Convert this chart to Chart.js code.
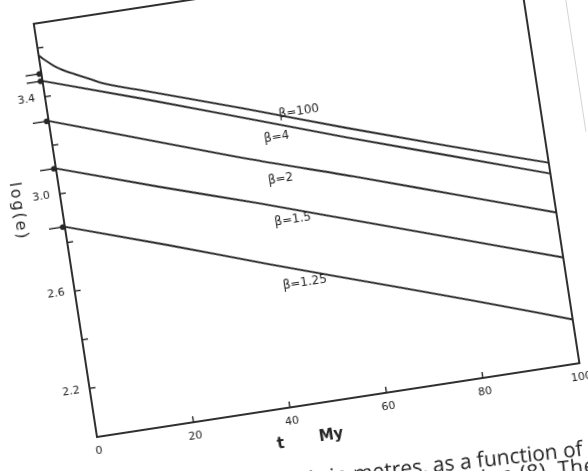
<!DOCTYPE html>
<html>
<head>
<meta charset="utf-8">
<script src="https://cdn.jsdelivr.net/npm/chart.js@4.4.1/dist/chart.umd.min.js"></script>
<style>
    html, body { margin: 0; padding: 0; background: #fff; overflow: hidden; width: 588px; height: 471px; }
    #wrap {
        position: absolute; left: 27px; top: -11px; width: 760px; height: 620px;
        transform-origin: 70px 448px; transform: rotate(-8.7deg);
        filter: blur(0.6px);
    }
    #chart { position: absolute; left: 0; top: 0; }
    .caption {
        position: absolute; font: 21px 'Open Sans', sans-serif; color: #222;
        white-space: nowrap; line-height: 24px;
        transform-origin: 0 20px; transform: rotate(2.4deg);
    }
    #edge { position: absolute; left: 599px; top: -200px; width: 0; height: 420px; border-left: 1px solid #d4d4d4; }
</style>
</head>
<body>
<div id="wrap">
    <canvas id="chart" width="620" height="520"></canvas>
    <div class="caption" style="left:236px; top:507px;">e(t) is in metres, as a function of</div>
    <div class="caption" style="left:384px; top:531px; letter-spacing:0.6px;">equation (8). The</div>
    <div id="edge"></div>
</div>
<script>
// t in My
const tValues = [0, 20, 40, 60, 80, 100];
const beta100T = [0, 1, 3, 5, 7, 10, 12, 20, 40, 60, 80, 100];

// log(e)
const beta100 = [3.57, 3.55, 3.515, 3.49, 3.47, 3.44, 3.42, 3.365, 3.23, 3.09, 2.955, 2.825];
const beta4 = [3.465, 3.33, 3.19, 3.05, 2.915, 2.78];
const beta2 = [3.30, 3.16, 3.02, 2.89, 2.755, 2.62];
const beta15 = [3.105, 2.97, 2.84, 2.705, 2.57, 2.435];
const beta125 = [2.865, 2.73, 2.59, 2.455, 2.32, 2.18];

// little arrow marks on the log(e) axis at t = 0
const startMarks = [3.495, 3.465, 3.30, 3.105, 2.865];

// curve labels
const curveNames = ['\u03b2=100', '\u03b2=4', '\u03b2=2', '\u03b2=1.5', '\u03b2=1.25'];
const labelT = [51, 45.7, 45.2, 46.4, 46.9];
const labelY = [3.185, 3.095, 2.925, 2.752, 2.492];

// axes
const xTickMarks = [20, 40, 60, 80];
const yTickMarks = [2.2, 2.4, 2.6, 2.8, 3.0, 3.2, 3.4, 3.6];
const yLabelled = [2.2, 2.6, 3.0, 3.4];

const ink = '#262626';

function toPoints(xs, ys) {
    return ys.map((y, i) => ({ x: xs[i], y: y }));
}

function lineSet(xs, ys) {
    return {
        data: toPoints(xs, ys),
        borderColor: ink,
        borderWidth: 1.9,
        pointRadius: 0,
        fill: false,
        cubicInterpolationMode: 'monotone'
    };
}

// Frame, inward ticks, markers, labels and titles
const decorations = {
    id: 'decorations',
    afterDraw(chart) {
        const { ctx, chartArea: a, scales: { x, y } } = chart;
        ctx.save();
        ctx.strokeStyle = ink;
        ctx.fillStyle = ink;
        ctx.lineWidth = 1.9;
        ctx.strokeRect(a.left, a.top, a.width, a.height);

        const seg = (x1, y1, x2, y2) => {
            ctx.beginPath();
            ctx.moveTo(x1, y1);
            ctx.lineTo(x2, y2);
            ctx.stroke();
        };

        ctx.lineWidth = 1.4;
        xTickMarks.forEach(v => {
            const px = x.getPixelForValue(v);
            seg(px, a.bottom, px, a.bottom - 6);
        });
        yTickMarks.forEach(v => {
            const py = y.getPixelForValue(v);
            seg(a.left, py, a.left + 6, py);
        });

        startMarks.forEach(v => {
            const py = y.getPixelForValue(v);
            seg(a.left - 16, py, a.left, py);
            ctx.beginPath();
            ctx.arc(a.left - 2, py, 2.9, 0, Math.PI * 2);
            ctx.fill();
        });

        ctx.font = "12px 'DejaVu Sans', sans-serif";
        ctx.textAlign = 'center';
        ctx.textBaseline = 'middle';
        curveNames.forEach((name, i) => {
            ctx.fillText(name, x.getPixelForValue(labelT[i]), y.getPixelForValue(labelY[i]));
        });

        // axis titles
        ctx.font = "bold 15px 'DejaVu Sans', sans-serif";
        ctx.fillText('t', x.getPixelForValue(37), a.bottom + 35);
        ctx.fillText('My', x.getPixelForValue(47.5), a.bottom + 34);

        ctx.font = "16px 'DejaVu Sans', sans-serif";
        ctx.letterSpacing = '2px';
        ctx.translate(a.left - 44, y.getPixelForValue(2.955));
        ctx.rotate(Math.PI / 2);
        ctx.fillText('log(e)', 0, 0);
        ctx.restore();
    }
};

const ctx = document.getElementById('chart').getContext('2d');
new Chart(ctx, {
    type: 'line',
    data: {
        datasets: [
            lineSet(beta100T, beta100),
            lineSet(tValues, beta4),
            lineSet(tValues, beta2),
            lineSet(tValues, beta15),
            lineSet(tValues, beta125)
        ]
    },
    options: {
        responsive: false,
        devicePixelRatio: 1,
        animation: false,
        layout: { padding: { left: 10, top: 30, right: 62, bottom: 22 } },
        plugins: { legend: { display: false }, tooltip: { enabled: false } },
        scales: {
            x: {
                type: 'linear', min: 0, max: 100,
                grid: { display: false, drawTicks: false },
                border: { display: false },
                ticks: {
                    stepSize: 20, padding: 8, maxRotation: 0,
                    color: '#222', font: { size: 11, family: "'DejaVu Sans', sans-serif" }
                },
                afterFit: (scale) => { scale.height = 50; }
            },
            y: {
                type: 'linear', min: 2.0, max: 3.7,
                grid: { display: false, drawTicks: false },
                border: { display: false },
                ticks: {
                    stepSize: 0.2, padding: 10,
                    color: '#222', font: { size: 11, family: "'DejaVu Sans', sans-serif" },
                    callback: (value) => yLabelled.some(v => Math.abs(v - value) < 1e-6) ? value.toFixed(1) : ''
                },
                afterFit: (scale) => { scale.width = 60; }
            }
        }
    },
    plugins: [decorations]
});
</script>
</body>
</html>
